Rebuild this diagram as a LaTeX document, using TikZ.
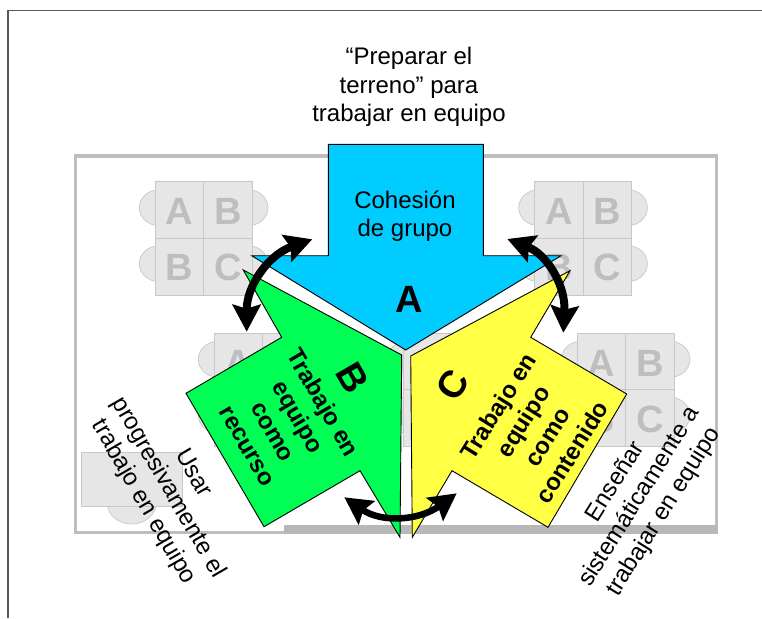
\documentclass[tikz,border=0pt]{standalone}
\usepackage{fontspec}
\setmainfont{Liberation Sans}
\usetikzlibrary{arrows.meta}
\definecolor{deskfill}{HTML}{E6E6E6}
\definecolor{deskline}{HTML}{C8C8C8}
\definecolor{deskletter}{HTML}{BEBEBE}
\definecolor{roomline}{HTML}{BEBEBE}
\definecolor{roomthick}{HTML}{B8B8B8}
\definecolor{blueA}{HTML}{00CCFF}
\definecolor{greenB}{HTML}{00FF55}
\definecolor{yellowC}{HTML}{FFFF44}
\tikzset{
  desk/.style={fill=deskfill,draw=deskline,line width=0.9pt},
  bump/.style={fill=deskfill,draw=deskline,line width=0.7pt},
  deskchar/.style={text=deskletter,font=\fontsize{38}{38}\selectfont\bfseries,inner sep=0pt},
  arrowpoly/.style={draw=black,line width=0.9pt,line join=miter},
  plainlabel/.style={font=\fontsize{24}{28.5}\selectfont,align=center,inner sep=0pt},
  boldlabel/.style={font=\fontsize{24}{29}\selectfont\bfseries,align=center,inner sep=0pt},
  bigletter/.style={font=\fontsize{38}{38}\selectfont\bfseries,inner sep=0pt},
  bidir/.style={line width=8pt,draw=black,{Stealth[length=27pt,width=28pt,inset=4pt]}-{Stealth[length=27pt,width=28pt,inset=4pt]}}
}
% group of four desks: top-left corner at #1,#2
\newcommand{\deskgroup}[3]{%
  \begin{scope}[shift={(#1,#2)}]
    \draw[bump] (4,26) ellipse [x radius=20,y radius=18];
    \draw[bump] (4,82) ellipse [x radius=20,y radius=18];
    \draw[bump] (92.7,26) ellipse [x radius=20,y radius=18];
    \draw[bump] (92.7,82) ellipse [x radius=20,y radius=18];
    \draw[desk] (0,0) rectangle (48.4,56.6);
    \draw[desk] (48.4,0) rectangle (96.7,56.6);
    \draw[desk] (0,56.6) rectangle (48.4,113.3);
    \draw[desk] (48.4,56.6) rectangle (96.7,113.3);
    \node[deskchar] (#3a) at (24.2,30) {A};
    \node[deskchar] (#3b) at (72.5,30) {B};
    \node[deskchar] (#3c) at (24.2,86) {B};
    \node[deskchar] (#3d) at (72.5,86) {C};
  \end{scope}}
\begin{document}
\begin{tikzpicture}[x=1pt,y=-1pt]
\useasboundingbox (0,0) rectangle (762,618);
\fill[white] (0,0) rectangle (762,618);
% outer page lines
\draw[line width=1.5pt,draw=black!65] (8,618) -- (8,10.5) -- (762,10.5);
% room
\draw[line width=3.7pt,draw=roomline] (75.5,155.7) rectangle (716.6,532.5);
\fill[roomthick] (284,524.5) rectangle (718.4,534.3);
% desks
\deskgroup{155.3}{181.7}{p}
\deskgroup{534.7}{181.7}{q}
\deskgroup{214.3}{333.3}{r}
\deskgroup{403}{333.3}{s}
\deskgroup{577.3}{333.3}{t}
\draw[bump] (131.7,503) ellipse [x radius=24.5,y radius=21];
\draw[desk] (81,452.3) rectangle (182.7,506.7);
% big arrows
\draw[arrowpoly,fill=blueA] (328.3,144.3) -- (483.3,144.3) -- (483.3,255.7) -- (561,255.7) -- (405.7,350) -- (251.7,255.7) -- (328.3,255.7) -- cycle;
\draw[arrowpoly,fill=greenB] (243.3,270) -- (401.7,355) -- (400,537.3) -- (360,470.7) -- (264,526.7) -- (186,393.3) -- (281.7,337.3) -- cycle;
\draw[arrowpoly,fill=yellowC] (570,270.7) -- (410.7,356) -- (412.3,537.3) -- (452,470.7) -- (548,527.3) -- (626.7,394) -- (530.7,337.3) -- cycle;
% texts
\node[plainlabel] (top) at (409,87) {“Preparar el\\terreno” para\\trabajar en equipo};
\node[plainlabel] (cohesion) at (405,216) {Cohesión\\de grupo};
\node[bigletter] (la) at (409,299) {A};
\node[bigletter,rotate=-60] (lb) at (353,378) {B};
\node[bigletter,rotate=58] (lc) at (453,385) {C};
\node[boldlabel,rotate=-60] (recurso) at (286,424) {Trabajo en\\equipo\\como\\recurso};
\node[boldlabel,rotate=58] (contenido) at (535,429) {Trabajo en\\equipo\\como\\contenido};
\node[plainlabel,rotate=-60] (usar) at (168,488) {Usar\\progresivamente el\\trabajo en equipo};
\node[plainlabel,rotate=58] (ensenar) at (640,497) {Enseñar\\sistemáticamente a\\trabajar en equipo};
% double arrows
\coordinate (ab1) at (312.3,239.3);
\coordinate (ab2) at (246.7,331.7);
\coordinate (ac1) at (507.3,239);
\coordinate (ac2) at (563.3,332.7);
\coordinate (bc1) at (344.3,497.3);
\coordinate (bc2) at (456.7,493.3);
\draw[bidir] (ab1) .. controls (268.4,254.8) and (246.6,285.6) .. (ab2);
\draw[bidir] (ac1) .. controls (547.1,254.3) and (565.8,285.6) .. (ac2);
\draw[bidir,line width=6.5pt] (bc1) .. controls (381.4,522.9) and (418.9,520.9) .. (bc2);
\end{tikzpicture}
\end{document}
